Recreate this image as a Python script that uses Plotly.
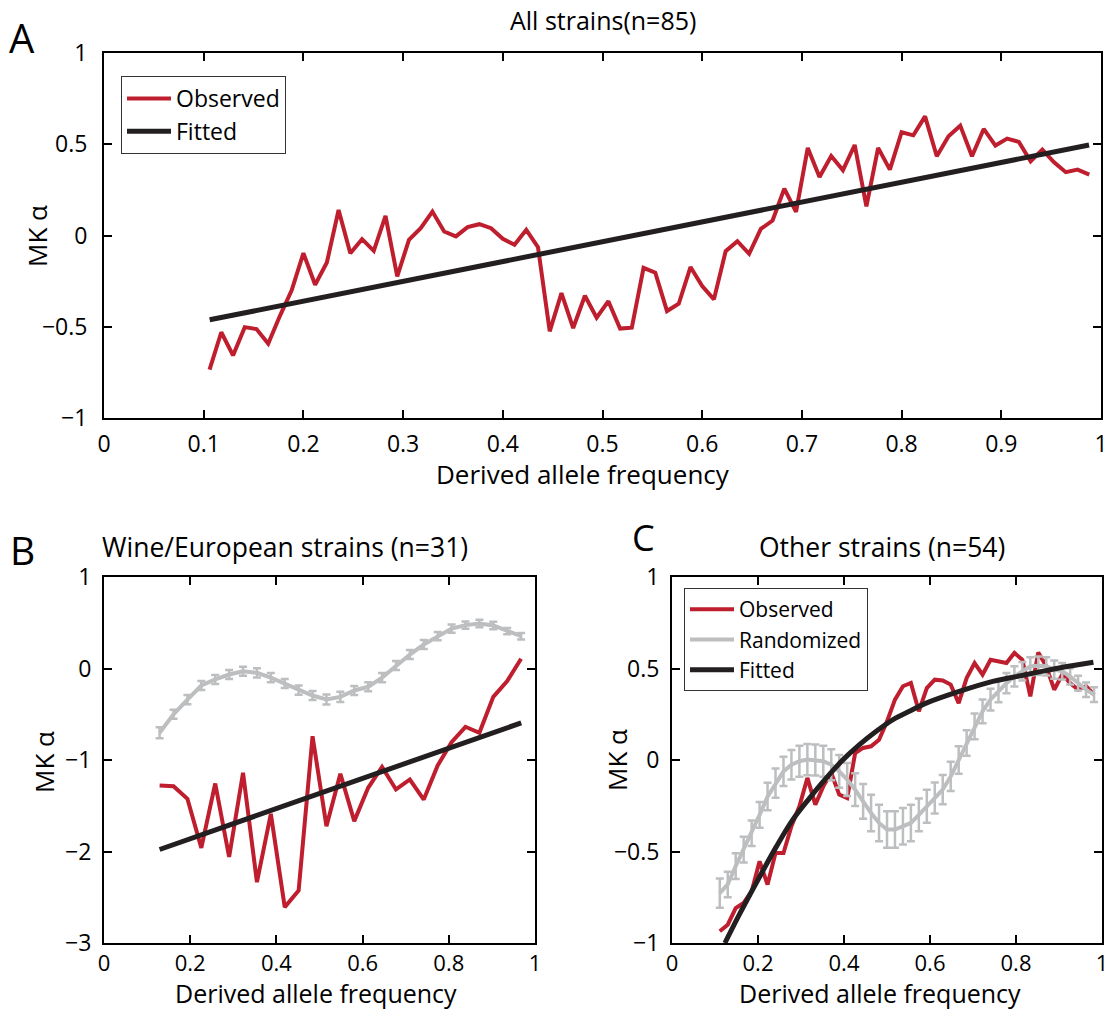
import plotly.graph_objects as go

# ---------------- data ----------------
# Panel A: all strains (n=85); derived allele counts 9..84
N_A = 85
countsA = list(range(9, 85))
obsA = [-0.735, -0.53, -0.657, -0.502, -0.513, -0.593, -0.44, -0.30, -0.097, -0.27,
        -0.148, 0.14, -0.097, -0.02, -0.084, 0.108, -0.224, -0.024, 0.04, 0.131,
        0.022, -0.005, 0.046, 0.062, 0.04, -0.018, -0.051, 0.031, -0.064, -0.525,
        -0.316, -0.507, -0.33, -0.45, -0.36, -0.51, -0.505, -0.177, -0.204, -0.414,
        -0.374, -0.173, -0.277, -0.35, -0.086, -0.031, -0.10, 0.036, 0.082, 0.257,
        0.13, 0.48, 0.321, 0.436, 0.358, 0.496, 0.16, 0.48, 0.361, 0.566,
        0.549, 0.653, 0.434, 0.544, 0.602, 0.434, 0.584, 0.493, 0.531, 0.513,
        0.407, 0.471, 0.401, 0.347, 0.361, 0.334]
fitA_x = [0.106, 0.988]
fitA_y = [-0.462, 0.496]

# Panel B: wine/European strains (n=31); counts 4..30
N_B = 31
countsB = list(range(4, 31))
obsB = [-1.279, -1.286, -1.424, -1.96, -1.257, -2.06, -1.14, -2.335, -1.588, -2.608,
        -2.426, -0.74, -1.723, -1.151, -1.668, -1.304, -1.075, -1.322, -1.213, -1.432,
        -1.06, -0.805, -0.637, -0.703, -0.31, -0.138, 0.106]
randB = [-0.703, -0.50, -0.34, -0.186, -0.12, -0.066, -0.03, -0.047, -0.10, -0.164,
         -0.237, -0.295, -0.339, -0.31, -0.24, -0.2, -0.10, 0.033, 0.153, 0.262,
         0.353, 0.437, 0.474, 0.492, 0.47, 0.408, 0.353]
errB = [0.06, 0.05, 0.05, 0.05, 0.05, 0.05, 0.05, 0.05, 0.05, 0.05,
        0.05, 0.05, 0.055, 0.055, 0.05, 0.05, 0.05, 0.05, 0.05, 0.05,
        0.045, 0.045, 0.04, 0.04, 0.04, 0.035, 0.035]
fitB_x = [0.129, 0.968]
fitB_y = [-1.978, -0.594]

# Panel C: other strains (n=54); counts 6..53
N_C = 54
countsC = list(range(6, 54))
obsC = [-0.936, -0.90, -0.809, -0.781, -0.718, -0.554, -0.681, -0.508, -0.508, -0.362,
        -0.253, -0.098, -0.244, -0.144, -0.071, -0.189, -0.208, 0.038, 0.066, 0.075,
        0.111, 0.211, 0.33, 0.403, 0.421, 0.266, 0.393, 0.439, 0.435, 0.412,
        0.311, 0.448, 0.53, 0.466, 0.548, 0.539, 0.53, 0.585, 0.548, 0.348,
        0.588, 0.512, 0.384, 0.466, 0.421, 0.384, 0.403, 0.357]
randC = [-0.727, -0.68, -0.58, -0.49, -0.40, -0.30, -0.20, -0.126, -0.062, -0.026,
         -0.007, 0.002, 0.0, -0.007, -0.026, -0.062, -0.107, -0.162, -0.226, -0.29,
         -0.344, -0.38, -0.38, -0.362, -0.344, -0.30, -0.253, -0.208, -0.162, -0.09,
         0.0, 0.093, 0.184, 0.266, 0.33, 0.375, 0.42, 0.457, 0.485, 0.512,
         0.515, 0.512, 0.494, 0.485, 0.457, 0.42, 0.384, 0.357]
errC = [0.08, 0.07, 0.07, 0.07, 0.07, 0.07, 0.075, 0.08, 0.08, 0.08,
        0.085, 0.085, 0.085, 0.085, 0.085, 0.09, 0.09, 0.09, 0.095, 0.10,
        0.10, 0.10, 0.10, 0.10, 0.10, 0.09, 0.09, 0.085, 0.08, 0.08,
        0.075, 0.07, 0.07, 0.065, 0.06, 0.06, 0.055, 0.055, 0.05, 0.05,
        0.05, 0.05, 0.05, 0.045, 0.045, 0.04, 0.04, 0.04]
fitC_x = [0.123, 0.158, 0.2, 0.243, 0.281, 0.32, 0.359, 0.398, 0.436, 0.475,
          0.514, 0.552, 0.591, 0.668, 0.746, 0.823, 0.9, 0.98]
fitC_y = [-1.0, -0.838, -0.654, -0.472, -0.326, -0.208, -0.098, 0.002, 0.084, 0.157,
          0.221, 0.266, 0.311, 0.375, 0.43, 0.466, 0.503, 0.534]

xtickA = [0, 0.1, 0.2, 0.3, 0.4, 0.5, 0.6, 0.7, 0.8, 0.9, 1]
xtickA_text = ["0", "0.1", "0.2", "0.3", "0.4", "0.5", "0.6", "0.7", "0.8", "0.9", "1"]
ytickA = [-1, -0.5, 0, 0.5, 1]
ytickA_text = ["\u22121", "\u22120.5", "0", "0.5", "1"]
xtickBC = [0, 0.2, 0.4, 0.6, 0.8, 1]
xtickBC_text = ["0", "0.2", "0.4", "0.6", "0.8", "1"]
ytickB = [-3, -2, -1, 0, 1]
ytickB_text = ["\u22123", "\u22122", "\u22121", "0", "1"]
ytickC = ytickA
ytickC_text = ytickA_text

assert len(obsA) == len(countsA)
assert len(obsB) == len(countsB) == len(randB) == len(errB)
assert len(obsC) == len(countsC) == len(randC) == len(errC)
assert len(fitC_x) == len(fitC_y)

xA = [k / N_A for k in countsA]
xB = [k / N_B for k in countsB]
xC = [k / N_C for k in countsC]

# ---------------- style ----------------
RED = "#BE1E2D"
BLACK = "#231F20"
GRAY = "#BCBEC0"
FONT = "Open Sans"
W, H = 1109, 1012
TICK_SIZE = 23
AXT_SIZE = 26

fig = go.Figure()

# Panel A
fig.add_trace(go.Scatter(x=xA, y=obsA, mode="lines", name="Observed",
                         line=dict(color=RED, width=4), xaxis="x", yaxis="y",
                         legend="legend"))
fig.add_trace(go.Scatter(x=fitA_x, y=fitA_y, mode="lines", name="Fitted",
                         line=dict(color=BLACK, width=5), xaxis="x", yaxis="y",
                         legend="legend"))

# Panel B
fig.add_trace(go.Scatter(x=xB, y=randB, mode="lines", name="Randomized",
                         line=dict(color=GRAY, width=4),
                         error_y=dict(type="data", array=errB, color=GRAY,
                                      thickness=2.5, width=4),
                         xaxis="x2", yaxis="y2", showlegend=False))
fig.add_trace(go.Scatter(x=xB, y=obsB, mode="lines", name="Observed",
                         line=dict(color=RED, width=4),
                         xaxis="x2", yaxis="y2", showlegend=False))
fig.add_trace(go.Scatter(x=fitB_x, y=fitB_y, mode="lines", name="Fitted",
                         line=dict(color=BLACK, width=5),
                         xaxis="x2", yaxis="y2", showlegend=False))

# Panel C
fig.add_trace(go.Scatter(x=xC, y=obsC, mode="lines", name="Observed",
                         line=dict(color=RED, width=4),
                         xaxis="x3", yaxis="y3", legend="legend2"))
fig.add_trace(go.Scatter(x=xC, y=randC, mode="lines", name="Randomized",
                         line=dict(color=GRAY, width=4),
                         error_y=dict(type="data", array=errC, color=GRAY,
                                      thickness=2.5, width=4),
                         xaxis="x3", yaxis="y3", legend="legend2"))
fig.add_trace(go.Scatter(x=fitC_x, y=fitC_y, mode="lines", name="Fitted",
                         line=dict(color=BLACK, width=5, shape="spline"),
                         xaxis="x3", yaxis="y3", legend="legend2"))


def ax(**kw):
    base = dict(showline=True, linecolor="black", linewidth=2, mirror="ticks",
                ticks="inside", ticklen=8, tickwidth=2, tickcolor="black",
                showgrid=False, zeroline=False,
                tickfont=dict(family=FONT, size=TICK_SIZE, color="black"))
    base.update(kw)
    return base


def px_x(p):
    return p / W


def px_y(p):
    return 1 - p / H


def text_ann(text, x, y, size, angle=0):
    return dict(text=text, x=px_x(x), y=px_y(y), xref="paper", yref="paper",
                showarrow=False, textangle=angle, borderpad=0,
                font=dict(family=FONT, size=size, color="black"),
                xanchor="center", yanchor="middle")


BC_XTICKFONT = dict(family=FONT, size=22, color="black")

fig.update_layout(
    width=W, height=H,
    margin=dict(l=0, r=0, t=0, b=0, autoexpand=False),
    paper_bgcolor="white", plot_bgcolor="white",
    font=dict(family=FONT, color="black"),
    xaxis=ax(domain=[px_x(104), px_x(1101)], range=[0, 1], anchor="y",
             tickvals=xtickA, ticktext=xtickA_text, ticklabelstandoff=4),
    yaxis=ax(domain=[px_y(418), px_y(53)], range=[-1, 1], anchor="x",
             tickvals=ytickA, ticktext=ytickA_text, ticklabelstandoff=10),
    xaxis2=ax(domain=[px_x(104), px_x(535)], range=[0, 1], anchor="y2",
              tickvals=xtickBC, ticktext=xtickBC_text, ticklabelstandoff=0,
              tickfont=BC_XTICKFONT),
    yaxis2=ax(domain=[px_y(943), px_y(577)], range=[-3, 1], anchor="x2",
              tickvals=ytickB, ticktext=ytickB_text, ticklabelstandoff=6),
    xaxis3=ax(domain=[px_x(672), px_x(1102)], range=[0, 1], anchor="y3",
              tickvals=xtickBC, ticktext=xtickBC_text, ticklabelstandoff=0,
              tickfont=BC_XTICKFONT),
    yaxis3=ax(domain=[px_y(943), px_y(577)], range=[-1, 1], anchor="x3",
              tickvals=ytickC, ticktext=ytickC_text, ticklabelstandoff=6),
    legend=dict(x=px_x(121), y=px_y(76), xanchor="left", yanchor="top",
                bgcolor="white", bordercolor="#333333", borderwidth=1,
                font=dict(family=FONT, size=23, color="black"),
                itemwidth=44, tracegroupgap=0),
    legend2=dict(x=px_x(684), y=px_y(588), xanchor="left", yanchor="top",
                 bgcolor="white", bordercolor="#333333", borderwidth=1,
                 font=dict(family=FONT, size=21, color="black"),
                 itemwidth=44, tracegroupgap=0),
    annotations=[
        text_ann("A", 22, 37, 40),
        text_ann("B", 22, 549, 39),
        text_ann("C", 643, 537, 36),
        text_ann("All strains(n=85)", 603, 20, 25),
        text_ann("Wine/European strains (n=31)", 285, 547, 26.5),
        text_ann("Other strains (n=54)", 882, 547, 26.5),
        text_ann("MK \u03b1", 37, 236, AXT_SIZE, -90),
        text_ann("MK \u03b1", 44, 762, AXT_SIZE, -90),
        text_ann("MK \u03b1", 617, 760, AXT_SIZE, -90),
        text_ann("Derived allele frequency", 583, 474, AXT_SIZE),
        text_ann("Derived allele frequency", 316, 993, 25),
        text_ann("Derived allele frequency", 880, 993, 25),
    ],
)

fig.write_html(
    "out.html",
    config={"displayModeBar": False},
    post_script="document.body.style.margin='0';document.body.style.padding='0';"
                "document.body.style.overflow='hidden';",
)
